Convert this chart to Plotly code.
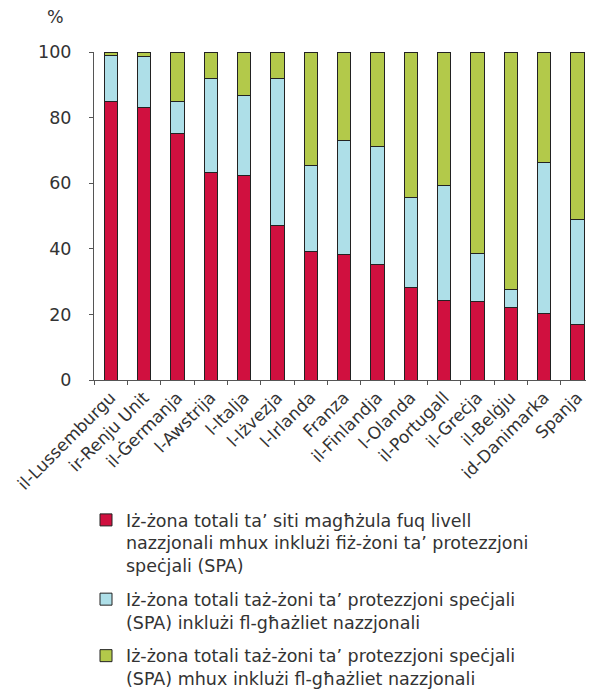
import plotly.graph_objects as go

countries = ["il-Lussemburgu", "ir-Renju Unit", "il-Ġermanja", "l-Awstrija", "l-Italja",
             "l-Iżvezja", "l-Irlanda", "Franza", "il-Finlandja", "l-Olanda",
             "il-Portugall", "il-Greċja", "il-Belġju", "id-Danimarka", "Spanja"]

national_not_spa = [85.0, 83.0, 75.3, 63.4, 62.5, 47.0, 39.3, 38.4, 35.2, 28.1, 24.2, 24.0, 22.2, 20.2, 17.0]
spa_in_national = [14.0, 15.7, 9.5, 28.6, 24.1, 45.0, 26.2, 34.6, 36.0, 27.6, 35.0, 14.5, 5.4, 46.2, 31.8]
spa_not_national = [1.0, 1.3, 15.2, 8.0, 13.4, 8.0, 34.5, 27.0, 28.8, 44.3, 40.8, 61.5, 72.4, 33.6, 51.2]

names = [
    "Iż-żona totali ta’ siti magħżula fuq livell<br>nazzjonali mhux inklużi fiż-żoni ta’ protezzjoni<br>speċjali (SPA)",
    "Iż-żona totali taż-żoni ta’ protezzjoni speċjali<br>(SPA) inklużi fl-għażliet nazzjonali",
    "Iż-żona totali taż-żoni ta’ protezzjoni speċjali<br>(SPA) mhux inklużi fl-għażliet nazzjonali",
]
colors = ["#D0103F", "#AEDFE8", "#B3C94A"]
series = [national_not_spa, spa_in_national, spa_not_national]

FONT = "DejaVu Sans, Verdana, sans-serif"
TXT = "#333333"
FS = 17.5

fig = go.Figure()
for i, (vals, nm, col) in enumerate(zip(series, names, colors)):
    fig.add_trace(go.Bar(
        x=countries, y=vals, name=nm, legendgroup=f"g{i}",
        marker=dict(color=col, line=dict(color="#222222", width=1)),
    ))

# page body has an 8px default margin, so the figure is 8px smaller than the window
fig.update_layout(
    width=586, height=689,
    barmode="stack", bargap=0.6,
    plot_bgcolor="white", paper_bgcolor="white",
    margin=dict(l=86, r=0, t=44, b=317, autoexpand=False),
    font=dict(family=FONT, size=FS, color=TXT),
    showlegend=True,
    legend=dict(
        x=-0.016, y=-0.372, xanchor="left", yanchor="top",
        traceorder="grouped", tracegroupgap=8, valign="top",
        font=dict(family=FONT, size=FS, color=TXT),
        bgcolor="rgba(0,0,0,0)",
    ),
    xaxis=dict(
        tickangle=-45, showline=True, linecolor="#555555", linewidth=1,
        ticks="outside", ticklen=4, tickcolor="#555555", tickson="boundaries",
        showgrid=False, tickfont=dict(size=17, color=TXT), automargin=False,
    ),
    yaxis=dict(
        range=[0, 100], tickvals=[0, 20, 40, 60, 80, 100],
        showline=True, linecolor="#555555", linewidth=1,
        ticks="outside", ticklen=4, tickcolor="#555555", ticklabelstandoff=14,
        showgrid=False, zeroline=False, tickfont=dict(size=FS, color=TXT),
        automargin=False,
    ),
    annotations=[dict(text="%", x=-0.078, y=1.107, xref="paper", yref="paper",
                      xanchor="center", yanchor="middle",
                      showarrow=False, font=dict(size=FS, color=TXT))],
)

fig.write_html("out.html")
